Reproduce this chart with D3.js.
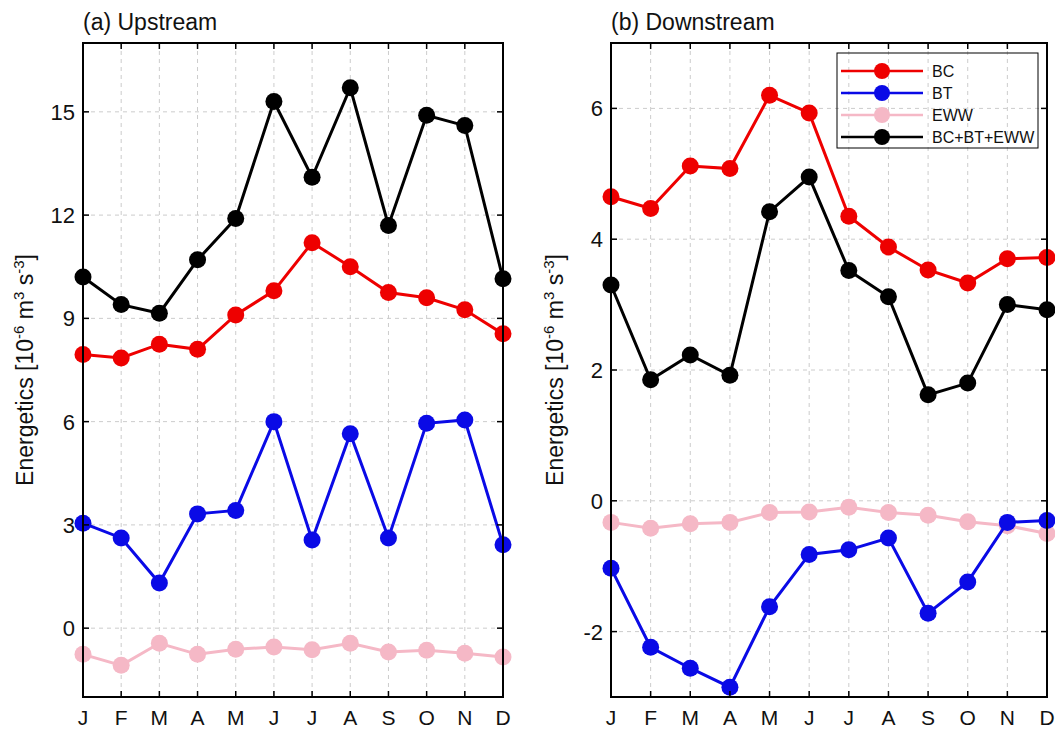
<!DOCTYPE html>
<html>
<head>
<meta charset="utf-8">
<script src="https://cdn.jsdelivr.net/npm/d3@7"></script>
<style>
  body { margin: 0; background: #fff; }
  text { font-family: "Liberation Sans", Arial, Helvetica, sans-serif; fill: #111; }
</style>
</head>
<body>
<div id="chart"></div>
<script>
var months = ["J", "F", "M", "A", "M", "J", "J", "A", "S", "O", "N", "D"];

// (a) Upstream
var upBC  = [7.95, 7.85, 8.25, 8.1, 9.1, 9.8, 11.2, 10.5, 9.75, 9.6, 9.25, 8.55];
var upBT  = [3.05, 2.62, 1.31, 3.32, 3.42, 6.0, 2.56, 5.65, 2.62, 5.95, 6.05, 2.42];
var upEWW = [-0.76, -1.08, -0.44, -0.76, -0.61, -0.55, -0.63, -0.44, -0.69, -0.64, -0.73, -0.84];
var upSum = [10.2, 9.4, 9.15, 10.7, 11.9, 15.3, 13.1, 15.7, 11.7, 14.9, 14.6, 10.15];
var upTicks = [0, 3, 6, 9, 12, 15];

// (b) Downstream
var downBC  = [4.65, 4.47, 5.12, 5.08, 6.2, 5.93, 4.35, 3.88, 3.53, 3.33, 3.7, 3.72];
var downBT  = [-1.03, -2.24, -2.56, -2.85, -1.62, -0.82, -0.75, -0.57, -1.72, -1.24, -0.33, -0.3];
var downEWW = [-0.33, -0.42, -0.35, -0.33, -0.18, -0.17, -0.1, -0.18, -0.22, -0.32, -0.38, -0.5];
var downSum = [3.3, 1.85, 2.23, 1.92, 4.42, 4.95, 3.52, 3.12, 1.62, 1.8, 3.0, 2.92];
var downTicks = [-2, 0, 2, 4, 6];

var seriesNames = ["BC", "BT", "EWW", "BC+BT+EWW"];
var colors = {"BC": "#ee0000", "BT": "#0a0ae6", "EWW": "#f5b8c6", "BC+BT+EWW": "#000000"};

var svg = d3.select("#chart").append("svg")
  .attr("width", 1055)
  .attr("height", 731);

function drawPanel(opts) {
  var x = d3.scalePoint()
    .domain(d3.range(months.length))
    .range([opts.left, opts.right]);

  var y = d3.scaleLinear()
    .domain(opts.domain)
    .range([opts.bottom, opts.top]);

  var g = svg.append("g");

  // grid
  g.selectAll("line.vgrid")
    .data(d3.range(1, months.length - 1))
    .enter().append("line")
      .attr("x1", function (d) { return x(d); })
      .attr("x2", function (d) { return x(d); })
      .attr("y1", opts.top)
      .attr("y2", opts.bottom)
      .style("stroke", "#cccccc")
      .style("stroke-width", 1)
      .style("stroke-dasharray", "4,4");

  g.selectAll("line.hgrid")
    .data(opts.ticks)
    .enter().append("line")
      .attr("x1", opts.left)
      .attr("x2", opts.right)
      .attr("y1", function (d) { return y(d); })
      .attr("y2", function (d) { return y(d); })
      .style("stroke", "#cccccc")
      .style("stroke-width", 1)
      .style("stroke-dasharray", "4,4");

  // series
  var line = d3.line()
    .x(function (d, i) { return x(i); })
    .y(function (d) { return y(d); });

  var order = ["EWW", "BT", "BC", "BC+BT+EWW"];
  order.forEach(function (name) {
    var vals = opts.data[name];
    g.append("path")
      .datum(vals)
      .attr("d", line)
      .style("fill", "none")
      .style("stroke", colors[name])
      .style("stroke-width", 3);

    g.selectAll("circle.m" + name.replace(/\+/g, ""))
      .data(vals)
      .enter().append("circle")
        .attr("cx", function (d, i) { return x(i); })
        .attr("cy", function (d) { return y(d); })
        .attr("r", 8.5)
        .style("fill", colors[name]);
  });

  // frame
  g.append("rect")
    .attr("x", opts.left)
    .attr("y", opts.top)
    .attr("width", opts.right - opts.left)
    .attr("height", opts.bottom - opts.top)
    .style("fill", "none")
    .style("stroke", "#000")
    .style("stroke-width", 2);

  // inner ticks
  var tl = 6;
  g.selectAll("line.xt")
    .data(d3.range(1, months.length - 1))
    .enter().append("line")
      .attr("x1", function (d) { return x(d); })
      .attr("x2", function (d) { return x(d); })
      .attr("y1", opts.top)
      .attr("y2", opts.top + tl)
      .style("stroke", "#000").style("stroke-width", 1.5);
  g.selectAll("line.xb")
    .data(d3.range(1, months.length - 1))
    .enter().append("line")
      .attr("x1", function (d) { return x(d); })
      .attr("x2", function (d) { return x(d); })
      .attr("y1", opts.bottom)
      .attr("y2", opts.bottom - tl)
      .style("stroke", "#000").style("stroke-width", 1.5);
  g.selectAll("line.yl")
    .data(opts.ticks)
    .enter().append("line")
      .attr("x1", opts.left)
      .attr("x2", opts.left + tl)
      .attr("y1", function (d) { return y(d); })
      .attr("y2", function (d) { return y(d); })
      .style("stroke", "#000").style("stroke-width", 1.5);
  g.selectAll("line.yr")
    .data(opts.ticks)
    .enter().append("line")
      .attr("x1", opts.right)
      .attr("x2", opts.right - tl)
      .attr("y1", function (d) { return y(d); })
      .attr("y2", function (d) { return y(d); })
      .style("stroke", "#000").style("stroke-width", 1.5);

  // tick labels
  g.selectAll("text.ylab")
    .data(opts.ticks)
    .enter().append("text")
      .attr("x", opts.left - 8)
      .attr("y", function (d) { return y(d) + 8; })
      .attr("text-anchor", "end")
      .style("font-size", "22px")
      .text(function (d) { return d; });

  g.selectAll("text.xlab")
    .data(months)
    .enter().append("text")
      .attr("x", function (d, i) { return x(i); })
      .attr("y", 725)
      .attr("text-anchor", "middle")
      .style("font-size", "21px")
      .text(function (d) { return d; });

  // title
  g.append("text")
    .attr("x", opts.left)
    .attr("y", 30)
    .style("font-size", "23px")
    .text(opts.title);

  // y label
  var yl = g.append("text")
    .attr("transform", "translate(" + opts.ylabX + "," + ((opts.top + opts.bottom) / 2) + ") rotate(-90)")
    .attr("text-anchor", "middle")
    .style("font-size", "23px");
  yl.append("tspan").text("Energetics [10");
  yl.append("tspan").attr("dy", -9).style("font-size", "15px").text("-6");
  yl.append("tspan").attr("dy", 9).text(" m");
  yl.append("tspan").attr("dy", -9).style("font-size", "15px").text("3");
  yl.append("tspan").attr("dy", 9).text(" s");
  yl.append("tspan").attr("dy", -9).style("font-size", "15px").text("-3");
  yl.append("tspan").attr("dy", 9).text("]");

  return g;
}

drawPanel({
  left: 83, right: 503, top: 43, bottom: 697,
  domain: [-2, 17], ticks: upTicks, ylabX: 33,
  title: "(a) Upstream",
  data: {"BC": upBC, "BT": upBT, "EWW": upEWW, "BC+BT+EWW": upSum}
});

drawPanel({
  left: 611, right: 1047, top: 43, bottom: 697,
  domain: [-3, 7], ticks: downTicks, ylabX: 563,
  title: "(b) Downstream",
  data: {"BC": downBC, "BT": downBT, "EWW": downEWW, "BC+BT+EWW": downSum}
});

// legend
var legend = svg.append("g");
legend.append("rect")
  .attr("x", 837)
  .attr("y", 53)
  .attr("width", 201)
  .attr("height", 95)
  .style("fill", "none")
  .style("stroke", "#000")
  .style("stroke-width", 1);

var lg = legend.selectAll("g.item")
  .data(seriesNames)
  .enter().append("g")
    .attr("transform", function (d, i) { return "translate(0," + (71 + i * 22) + ")"; });

lg.append("line")
  .attr("x1", 841).attr("x2", 923)
  .attr("y1", 0).attr("y2", 0)
  .style("stroke", function (d) { return colors[d]; })
  .style("stroke-width", 2.5);
lg.append("circle")
  .attr("cx", 882).attr("cy", 0).attr("r", 8)
  .style("fill", function (d) { return colors[d]; });
lg.append("text")
  .attr("x", 932).attr("y", 6)
  .style("font-size", "16px")
  .text(function (d) { return d; });
</script>
</body>
</html>
